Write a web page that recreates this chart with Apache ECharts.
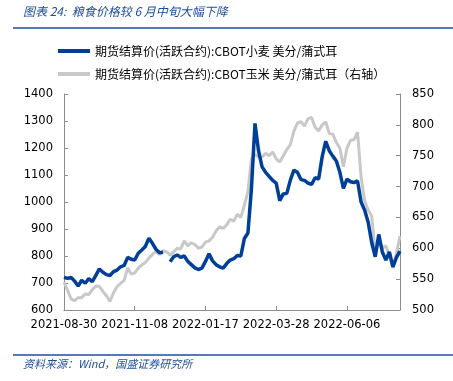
<!DOCTYPE html>
<html><head><meta charset="utf-8">
<script src="https://cdn.jsdelivr.net/npm/echarts@6/dist/echarts.min.js"></script>
<style>html,body{margin:0;padding:0;background:#fff}#c{width:453px;height:381px}</style>
</head><body><div id="c"></div>
<script>
// Categories: trading dates, Monday and Thursday of each week from 2021-08-30
const startDate = '2021-08-30';
const pointCount = 96;
function buildDates(start, n) {
  const out = [];
  const d0 = new Date(start + 'T00:00:00Z');
  for (let i = 0; i < n; i++) {
    const week = Math.floor(i / 2);
    const off = week * 7 + (i % 2 ? 3 : 0);
    const d = new Date(d0.getTime() + off * 86400000);
    out.push(d.toISOString().slice(0, 10));
  }
  return out;
}
const dates = buildDates(startDate, pointCount);

const wheatName = '期货结算价(活跃合约):CBOT小麦 美分/蒲式耳';
const cornName = '期货结算价(活跃合约):CBOT玉米 美分/蒲式耳（右轴）';

// CBOT wheat (left axis), US cents / bushel
const wheat = [721,717,721,707,689,710,699,716,705,728,
  752,740,731,728,742,748,760,765,795,788,
  785,810,822,835,866,847,825,812,814,null,
  779,797,804,795,800,780,768,756,750,755,
  780,808,782,768,760,755,772,785,790,802,
  800,865,885,1050,1291,1190,1130,1110,1095,1080,
  1070,1005,1030,1032,1081,1118,1110,1083,1080,1070,
  1065,1090,1085,1168,1225,1190,1170,1152,1110,1050,
  1085,1075,1072,1078,1000,970,925,850,797,880,
  815,785,815,760,795,818];

// CBOT corn (right axis), US cents / bushel
const corn = [545,532,518,515,520,520,526,525,533,539,
  538,530,523,514,528,538,543,548,568,558,
  560,568,573,577,584,590,595,590,596,594,
  589,594,600,599,612,604,609,606,600,602,
  610,612,618,628,635,632,638,647,644,655,
  650,670,692,745,752,748,748,754,750,756,
  745,740,750,760,768,790,803,805,798,810,
  812,796,790,800,805,786,785,772,762,732,
  762,775,776,788,715,677,662,652,592,610,
  600,604,588,568,592,620];

const leftTicks = {min: 600, max: 1400, step: 100};
const rightTicks = {min: 500, max: 850, step: 50};

const blue = '#003f98';
const gray = '#c8c8c8';
const axisColor = '#8c8c8c';
const labelFont = {fontFamily: 'DejaVu Sans', fontSize: 11.5, color: '#000'};
const plain = v => String(v);

const chart = echarts.init(document.getElementById('c'), null, {renderer: 'canvas'});
chart.setOption({
  animation: false,
  backgroundColor: '#fff',
  grid: {left: 64, right: 53, top: 94, bottom: 71, containLabel: false},
  legend: {
    orient: 'vertical', left: 53, top: 40, itemWidth: 32, itemHeight: 4, itemGap: 11,
    icon: 'rect',
    textStyle: {fontFamily: 'Noto Sans CJK SC', fontSize: 12, color: '#000'},
    data: [{name: wheatName, itemStyle: {color: blue}}, {name: cornName, itemStyle: {color: gray}}]
  },
  graphic: [
    {type: 'text', left: 23, top: 5, style: {text: '图表 24:  粮食价格较 6 月中旬大幅下降', fill: '#1f4e9a', font: 'italic 12px "Noto Sans CJK SC"'}},
    {type: 'line', shape: {x1: 13, y1: 28, x2: 453, y2: 28}, style: {stroke: '#1f4e9a', lineWidth: 1.5}},
    {type: 'line', shape: {x1: 13, y1: 355, x2: 453, y2: 355}, style: {stroke: '#1f4e9a', lineWidth: 1.5}},
    {type: 'text', left: 23, top: 358, style: {text: '资料来源：Wind，国盛证券研究所', fill: '#1f4e9a', font: 'italic 11px "Noto Sans CJK SC"'}}
  ],
  xAxis: {
    type: 'category', data: dates, boundaryGap: false,
    axisLine: {lineStyle: {color: axisColor, width: 1}},
    axisTick: {inside: true, length: 4, interval: 19, lineStyle: {color: axisColor}},
    axisLabel: Object.assign({interval: 19, margin: 9}, labelFont),
    splitLine: {show: false}
  },
  yAxis: [
    {type: 'value', min: leftTicks.min, max: leftTicks.max, interval: leftTicks.step, position: 'left',
     axisLine: {show: true, lineStyle: {color: axisColor}},
     axisTick: {show: true, inside: true, length: 4, lineStyle: {color: axisColor}},
     axisLabel: Object.assign({margin: 11, formatter: plain}, labelFont), splitLine: {show: false}},
    {type: 'value', min: rightTicks.min, max: rightTicks.max, interval: rightTicks.step, position: 'right',
     axisLine: {show: true, lineStyle: {color: axisColor}},
     axisTick: {show: true, inside: true, length: 4, lineStyle: {color: axisColor}},
     axisLabel: Object.assign({margin: 12, formatter: plain}, labelFont), splitLine: {show: false}}
  ],
  series: [
    {name: cornName, type: 'line', yAxisIndex: 1, data: corn, showSymbol: false, z: 2,
     lineStyle: {color: gray, width: 3}, itemStyle: {color: gray}},
    {name: wheatName, type: 'line', yAxisIndex: 0, data: wheat, showSymbol: false, z: 3, connectNulls: false,
     lineStyle: {color: blue, width: 3.5}, itemStyle: {color: blue}}
  ]
});
</script></body></html>
